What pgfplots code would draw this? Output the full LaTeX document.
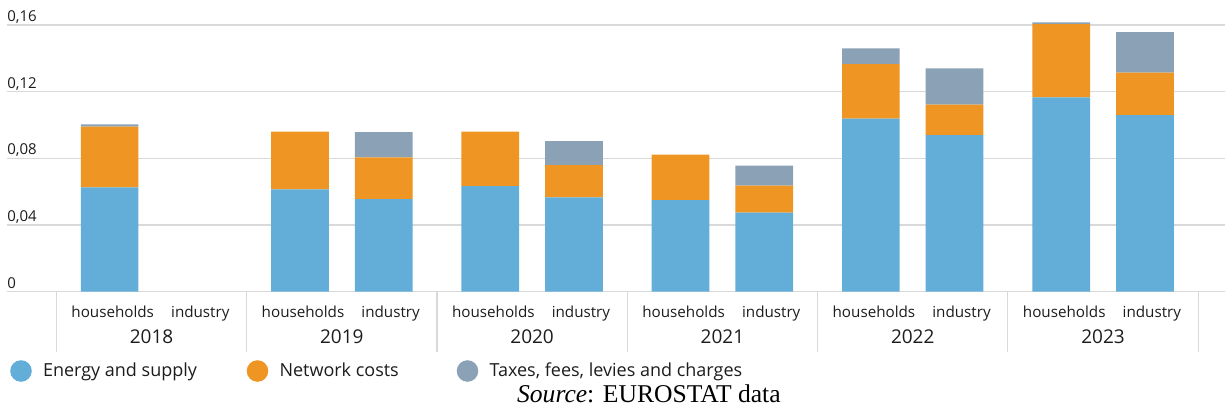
\documentclass[border=0pt]{standalone}
\usepackage{fontspec}
\setmainfont{Open Sans}
\newfontfamily\srcfont{Liberation Serif}
\usepackage{pgfplots}
\usepackage{pgfplotstable}
\pgfplotsset{compat=1.18}
\definecolor{cEnergy}{RGB}{99,174,216}
\definecolor{cNetwork}{RGB}{238,149,35}
\definecolor{cTaxes}{RGB}{139,162,182}
\definecolor{cGrid}{RGB}{217,217,217}
\definecolor{cText}{RGB}{28,28,28}

\pgfplotstableread{
x energy network taxes
-0.22 0.0626 0.0364 0.0014
0.78 0.0614 0.0346 0.0000
1.22 0.0556 0.0250 0.0152
1.78 0.0634 0.0326 0.0000
2.22 0.0566 0.0194 0.0144
2.78 0.0550 0.0272 0.0000
3.22 0.0474 0.0162 0.0120
3.78 0.1038 0.0328 0.0094
4.22 0.0940 0.0182 0.0218
4.78 0.1166 0.0440 0.0010
5.22 0.1060 0.0254 0.0244
}\datatable

\newcommand\hi{{\fontsize{7.6}{9}\selectfont\hspace*{5pt}\makebox[43.8pt]{households}\makebox[43.8pt]{industry}}}

\begin{document}
\begin{tikzpicture}
\begin{axis}[
  scale only axis, width=609pt, height=137.5pt,
  xmin=-0.7593, xmax=5.641, ymin=0, ymax=0.165,
  enlargelimits=false,
  ybar stacked, bar width=28.85pt,
  axis line style={draw=none},
  tick pos=left, tick align=outside,
  major tick length=0pt, minor tick length=30pt,
  minor tick style={draw=cGrid, line width=0.6pt},
  xtick={0,1,2,3,4,5},
  xticklabels={{\hi\\2018},{\hi\\2019},{\hi\\2020},{\hi\\2021},{\hi\\2022},{\hi\\2023}},
  minor xtick={-0.5,0.5,1.5,2.5,3.5,4.5,5.5},
  ytick={0,0.04,0.08,0.12,0.16},
  ymajorgrids, grid style={draw=cGrid, line width=0.6pt},
  /pgf/number format/assume math mode=true,
  yticklabel style={anchor=base west, inner sep=0pt, yshift=1.7pt,
    font=\fontsize{7.5}{9}\selectfont, text=cText,
    /pgf/number format/fixed, /pgf/number format/precision=2,
    /pgf/number format/use comma},
  xticklabel style={align=center, anchor=north, inner sep=0pt, yshift=-6.7pt,
    font=\fontsize{9.5}{13.3}\selectfont, text=cText},
  legend columns=3,
  legend style={at={(0,0)}, anchor=west, xshift=1.6pt, yshift=-39.65pt,
    draw=none, fill=none, inner sep=0pt, outer sep=0pt,
    column sep=0pt, row sep=0pt,
    nodes={inner sep=0pt, outer sep=0pt, text=cText},
    font=\fontsize{9}{11}\selectfont, cells={anchor=west}},
  clip=false,
]
\addplot[fill=cEnergy, draw=none,
  legend image code/.code={\fill[cEnergy] (0pt,0pt) circle (5.4pt); \path (11pt,0pt);}]
  table[x=x, y=energy] {\datatable};
\addplot[fill=cNetwork, draw=none,
  legend image code/.code={\fill[cNetwork] (0pt,0pt) circle (5.4pt); \path (11pt,0pt);}]
  table[x=x, y=network] {\datatable};
\addplot[fill=cTaxes, draw=none,
  legend image code/.code={\fill[cTaxes] (0pt,0pt) circle (5.4pt); \path (11pt,0pt);}]
  table[x=x, y=taxes] {\datatable};
\addlegendentry{\makebox[101.85pt][l]{Energy and supply}}
\addlegendentry{\makebox[88.6pt][l]{Network costs}}
\addlegendentry{Taxes, fees, levies and charges}
\end{axis}
\node[anchor=base west, inner sep=0pt, font=\srcfont\fontsize{12.8}{15}\selectfont, text=black]
  at ([xshift=254.85pt, yshift=-55.3pt]current axis.south west) {\textit{Source}: EUROSTAT data};
\pgfresetboundingbox
\path[use as bounding box] ([xshift=-3.5pt,yshift=-60.15pt]current axis.south west) rectangle ([yshift=145.85pt]current axis.south east);
\end{tikzpicture}
\end{document}
